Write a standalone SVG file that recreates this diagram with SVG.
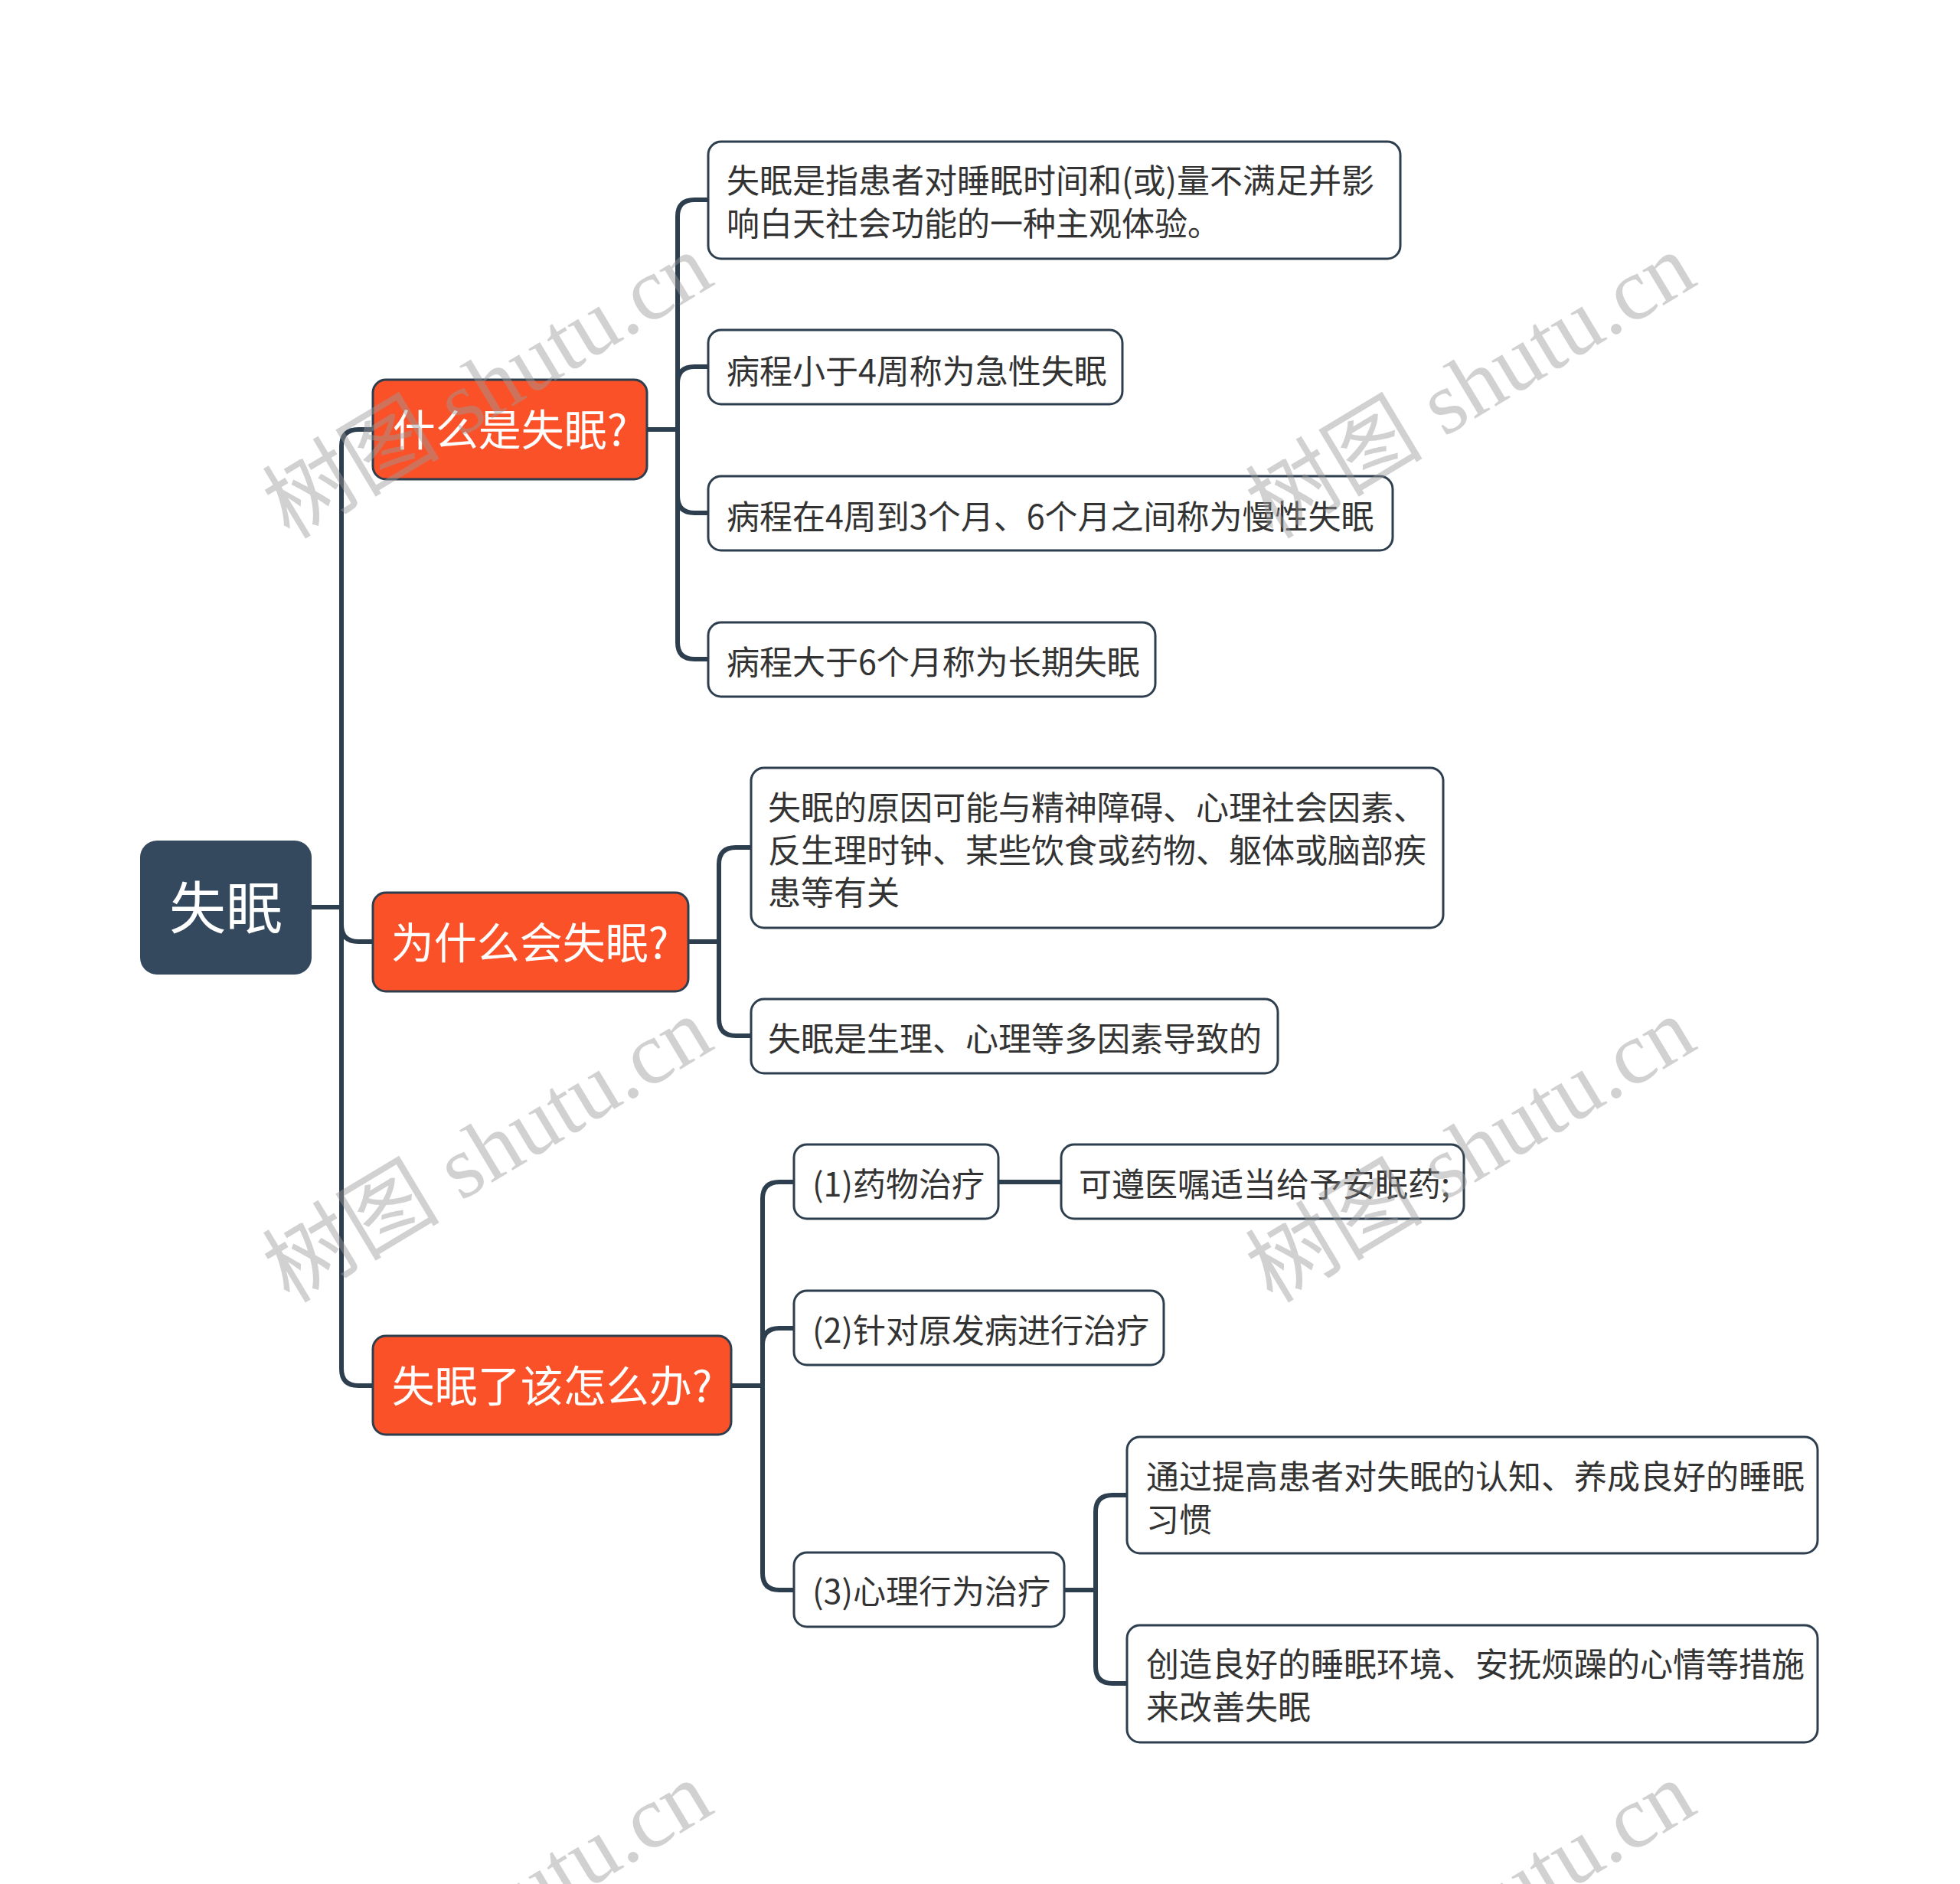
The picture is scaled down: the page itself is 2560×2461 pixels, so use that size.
<svg xmlns="http://www.w3.org/2000/svg" width="2560" height="2461" viewBox="0 0 2560 2461">
<style>
.conn{fill:none;stroke:#2D3E4E;stroke-width:6;stroke-linejoin:round}
.root{fill:#34495E}
.l1{fill:#FB5128;stroke:#2D3E4E;stroke-width:3}
.l2{fill:#FFFFFF;stroke:#2D3E4E;stroke-width:3}
.t{font-family:"Noto Sans CJK SC","Noto Sans",sans-serif}
.tr{font-size:74px;fill:#FFFFFF}
.t1{font-size:56px;fill:#FFFFFF}
.t2{font-size:43px;fill:#333333}
.wm{font-family:"Liberation Serif","Noto Sans CJK SC",serif;font-size:116px;fill:#9A9A9A;opacity:0.45}
</style>
<rect x="0" y="0" width="2560" height="2461" fill="#FFFFFF"/>
<g id="connectors">
<path class="conn" d="M407 1185 H446"/>
<path class="conn" d="M446 1185 V583 Q446 561 468 561 H487"/>
<path class="conn" d="M446 1185 V1208 Q446 1230 468 1230 H487"/>
<path class="conn" d="M446 1185 V1788 Q446 1810 468 1810 H487"/>
<path class="conn" d="M845 561 H885 V283 Q885 261 907 261 H925"/>
<path class="conn" d="M845 561 H885 V501 Q885 479 907 479 H925"/>
<path class="conn" d="M845 561 H885 V648 Q885 670 907 670 H925"/>
<path class="conn" d="M845 561 H885 V839 Q885 861 907 861 H925"/>
<path class="conn" d="M899 1230 H939 V1129 Q939 1107 961 1107 H981"/>
<path class="conn" d="M899 1230 H939 V1331 Q939 1353 961 1353 H981"/>
<path class="conn" d="M955 1810 H996 V1566 Q996 1544 1018 1544 H1037"/>
<path class="conn" d="M955 1810 H996 V1757 Q996 1735 1018 1735 H1037"/>
<path class="conn" d="M955 1810 H996 V2055 Q996 2077 1018 2077 H1037"/>
<path class="conn" d="M1304 1544 H1386"/>
<path class="conn" d="M1390 2077 H1431 V1975 Q1431 1953 1453 1953 H1472"/>
<path class="conn" d="M1390 2077 H1431 V2177 Q1431 2199 1453 2199 H1472"/>
</g>
<g id="node-root">
<rect class="root" x="183" y="1098" width="224" height="175" rx="22"/>
<text class="t tr" x="295" y="1213" text-anchor="middle">失眠</text>
</g>
<g id="node-what">
<rect class="l1" x="487" y="496" width="358" height="130" rx="17"/>
<text class="t t1" x="666" y="582" text-anchor="middle">什么是失眠?</text>
</g>
<g id="node-why">
<rect class="l1" x="487" y="1166" width="412" height="129" rx="17"/>
<text class="t t1" x="692" y="1252" text-anchor="middle">为什么会失眠?</text>
</g>
<g id="node-how">
<rect class="l1" x="487" y="1745" width="468" height="129" rx="17"/>
<text class="t t1" x="721" y="1831" text-anchor="middle">失眠了该怎么办?</text>
</g>
<g id="node-a1">
<rect class="l2" x="925" y="185" width="904" height="153" rx="17"/>
<text class="t t2" x="949" y="252">失眠是指患者对睡眠时间和(或)量不满足并影</text>
<text class="t t2" x="949" y="308">响白天社会功能的一种主观体验。</text>
</g>
<g id="node-a2">
<rect class="l2" x="925" y="431" width="541" height="97" rx="17"/>
<text class="t t2" x="949" y="501">病程小于4周称为急性失眠</text>
</g>
<g id="node-a3">
<rect class="l2" x="925" y="622" width="894" height="97" rx="17"/>
<text class="t t2" x="949" y="691">病程在4周到3个月、6个月之间称为慢性失眠</text>
</g>
<g id="node-a4">
<rect class="l2" x="925" y="813" width="584" height="97" rx="17"/>
<text class="t t2" x="949" y="881">病程大于6个月称为长期失眠</text>
</g>
<g id="node-b1">
<rect class="l2" x="981" y="1003" width="904" height="209" rx="17"/>
<text class="t t2" x="1003" y="1071">失眠的原因可能与精神障碍、心理社会因素、</text>
<text class="t t2" x="1003" y="1127">反生理时钟、某些饮食或药物、躯体或脑部疾</text>
<text class="t t2" x="1003" y="1182">患等有关</text>
</g>
<g id="node-b2">
<rect class="l2" x="981" y="1305" width="688" height="97" rx="17"/>
<text class="t t2" x="1003" y="1373">失眠是生理、心理等多因素导致的</text>
</g>
<g id="node-c1">
<rect class="l2" x="1037" y="1495" width="267" height="97" rx="17"/>
<text class="t t2" x="1061" y="1563">(1)药物治疗</text>
</g>
<g id="node-d1">
<rect class="l2" x="1386" y="1495" width="526" height="97" rx="17"/>
<text class="t t2" x="1409" y="1563">可遵医嘱适当给予安眠药;</text>
</g>
<g id="node-c2">
<rect class="l2" x="1037" y="1686" width="483" height="97" rx="17"/>
<text class="t t2" x="1061" y="1754">(2)针对原发病进行治疗</text>
</g>
<g id="node-c3">
<rect class="l2" x="1037" y="2028" width="353" height="97" rx="17"/>
<text class="t t2" x="1061" y="2095">(3)心理行为治疗</text>
</g>
<g id="node-e1">
<rect class="l2" x="1472" y="1877" width="902" height="152" rx="17"/>
<text class="t t2" x="1497" y="1945">通过提高患者对失眠的认知、养成良好的睡眠</text>
<text class="t t2" x="1497" y="2001">习惯</text>
</g>
<g id="node-e2">
<rect class="l2" x="1472" y="2123" width="902" height="153" rx="17"/>
<text class="t t2" x="1497" y="2190">创造良好的睡眠环境、安抚烦躁的心情等措施</text>
<text class="t t2" x="1497" y="2246">来改善失眠</text>
</g>
<g id="watermark">
<text class="wm" text-anchor="middle" transform="translate(657 538) rotate(-31)">树图 shutu.cn</text>
<text class="wm" text-anchor="middle" transform="translate(1941 538) rotate(-31)">树图 shutu.cn</text>
<text class="wm" text-anchor="middle" transform="translate(657 1536) rotate(-31)">树图 shutu.cn</text>
<text class="wm" text-anchor="middle" transform="translate(1941 1536) rotate(-31)">树图 shutu.cn</text>
<text class="wm" text-anchor="middle" transform="translate(657 2534) rotate(-31)">树图 shutu.cn</text>
<text class="wm" text-anchor="middle" transform="translate(1941 2534) rotate(-31)">树图 shutu.cn</text>
</g>
</svg>
